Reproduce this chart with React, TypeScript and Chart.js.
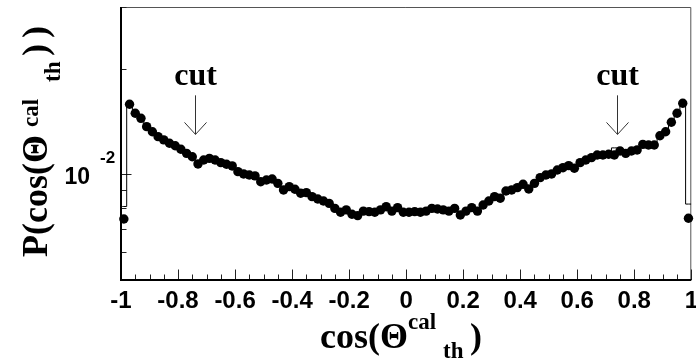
import React, { useEffect, useRef } from "react";
import { Chart, registerables } from "chart.js";
Chart.register(...registerables);

// bin centres of cos(theta) histogram (bin width 0.02)
const binCenters = [
  -0.99, -0.97, -0.95, -0.93, -0.91, -0.89, -0.87, -0.85, -0.83, -0.81,
  -0.79, -0.77, -0.75, -0.73, -0.71, -0.69, -0.67, -0.65, -0.63, -0.61,
  -0.59, -0.57, -0.55, -0.53, -0.51, -0.49, -0.47, -0.45, -0.43, -0.41,
  -0.39, -0.37, -0.35, -0.33, -0.31, -0.29, -0.27, -0.25, -0.23, -0.21,
  -0.19, -0.17, -0.15, -0.13, -0.11, -0.09, -0.07, -0.05, -0.03, -0.01,
  0.01, 0.03, 0.05, 0.07, 0.09, 0.11, 0.13, 0.15, 0.17, 0.19,
  0.21, 0.23, 0.25, 0.27, 0.29, 0.31, 0.33, 0.35, 0.37, 0.39,
  0.41, 0.43, 0.45, 0.47, 0.49, 0.51, 0.53, 0.55, 0.57, 0.59,
  0.61, 0.63, 0.65, 0.67, 0.69, 0.71, 0.73, 0.75, 0.77, 0.79,
  0.81, 0.83, 0.85, 0.87, 0.89, 0.91, 0.93, 0.95, 0.97, 0.99,
];

// data points P(cos)
const dataValues = [
  0.00746, 0.01585, 0.01494, 0.01445, 0.01368, 0.01323, 0.01281, 0.01254, 0.01227, 0.01207,
  0.01179, 0.01148, 0.01123, 0.01071, 0.01099, 0.01111, 0.01099, 0.0108, 0.01069, 0.01057,
  0.01018, 0.01003, 0.00996, 0.0099, 0.00953, 0.00964, 0.0097, 0.00943, 0.00903, 0.00923,
  0.00907, 0.00884, 0.00887, 0.00864, 0.00851, 0.0084, 0.00827, 0.008, 0.0078, 0.00792,
  0.0077, 0.00763, 0.00786, 0.00783, 0.0078, 0.00792, 0.00809, 0.00786, 0.00804, 0.0078,
  0.0078, 0.00783, 0.0078, 0.00786, 0.008, 0.00797, 0.00792, 0.00786, 0.008, 0.00766,
  0.00786, 0.00804, 0.00786, 0.00818, 0.0084, 0.00864, 0.00855, 0.00897, 0.00903, 0.00917,
  0.00937, 0.00909, 0.00943, 0.00979, 0.00996, 0.01003, 0.01029, 0.01045, 0.01059, 0.01041,
  0.0108, 0.01099, 0.01116, 0.01136, 0.01136, 0.01141, 0.01136, 0.01166, 0.01148, 0.01166,
  0.01174, 0.01218, 0.01213, 0.01213, 0.01289, 0.01323, 0.01408, 0.01494, 0.01595, 0.0075,
];

// simulation histogram (mostly hidden under the points)
const mcValues = [
  0.0081, 0.0158, 0.01494, 0.01445, 0.01368, 0.01323, 0.01281, 0.01254, 0.01227, 0.01207,
  0.01179, 0.01148, 0.01123, 0.01071, 0.01099, 0.01111, 0.01099, 0.0108, 0.01069, 0.01057,
  0.01018, 0.01003, 0.00996, 0.0099, 0.00953, 0.00964, 0.0097, 0.00943, 0.00903, 0.00923,
  0.00907, 0.00884, 0.00887, 0.00864, 0.00851, 0.0084, 0.00827, 0.008, 0.0078, 0.00792,
  0.0077, 0.00763, 0.00786, 0.00783, 0.0078, 0.00792, 0.00809, 0.00786, 0.00804, 0.0078,
  0.0078, 0.00783, 0.0078, 0.00786, 0.008, 0.00797, 0.00792, 0.00786, 0.008, 0.00766,
  0.00786, 0.00804, 0.00786, 0.00818, 0.0084, 0.00864, 0.00855, 0.00897, 0.00903, 0.00917,
  0.00937, 0.00909, 0.00943, 0.00979, 0.00996, 0.01003, 0.01029, 0.01045, 0.01059, 0.01041,
  0.0108, 0.01099, 0.01116, 0.01136, 0.01136, 0.01141, 0.0119, 0.0119, 0.01148, 0.01166,
  0.01174, 0.01218, 0.01213, 0.01213, 0.01289, 0.01323, 0.01408, 0.01494, 0.01595, 0.00823,
];

const xRange = [-1, 1];
const yRange = [0.005, 0.03];
const yTickValues = [0.005, 0.006, 0.007, 0.008, 0.009, 0.01, 0.02, 0.03];
const yMajorTick = 0.01;
const xMinorTicks = [
  -0.95, -0.9, -0.85, -0.75, -0.7, -0.65, -0.55, -0.5, -0.45, -0.35, -0.3, -0.25,
  -0.15, -0.1, -0.05, 0.05, 0.1, 0.15, 0.25, 0.3, 0.35, 0.45, 0.5, 0.55,
  0.65, 0.7, 0.75, 0.85, 0.9, 0.95,
];
const cutPositions = [-0.74, 0.74];
const cutLabel = "cut";
const cutLabelValue = 0.0180;
const arrowTopValue = 0.0168;
const arrowTipValue = 0.0130;

const decorPlugin = {
  id: "decor",
  beforeDatasetsDraw(chart: any) {
    const ctx = chart.ctx;
    const { left, right, top, bottom } = chart.chartArea;
    const xs = chart.scales.x;
    const ys = chart.scales.y;
    ctx.save();
    ctx.strokeStyle = "#555";
    ctx.lineWidth = 1;
    ctx.beginPath();
    ctx.moveTo(left, top + 0.5);
    ctx.lineTo(right - 0.5, top + 0.5);
    ctx.lineTo(right - 0.5, bottom);
    ctx.stroke();
    ctx.strokeStyle = "#222";
    ctx.lineWidth = 1;
    ctx.beginPath();
    for (const t of xs.ticks) {
      const px = Math.round(xs.getPixelForValue(t.value)) + 0.5;
      ctx.moveTo(px, bottom);
      ctx.lineTo(px, bottom - 10.5);
    }
    for (const v of xMinorTicks) {
      const px = Math.round(xs.getPixelForValue(v)) + 0.5;
      ctx.moveTo(px, bottom);
      ctx.lineTo(px, bottom - 5.5);
    }
    for (const t of ys.ticks) {
      const py = Math.round(ys.getPixelForValue(t.value)) + 0.5;
      const len = Math.abs(t.value - yMajorTick) < 1e-9 ? 10.5 : 5.5;
      ctx.moveTo(left, py);
      ctx.lineTo(left + len, py);
    }
    ctx.stroke();
    ctx.strokeStyle = "#000";
    ctx.lineWidth = 2;
    ctx.beginPath();
    ctx.moveTo(left, top);
    ctx.lineTo(left, bottom);
    ctx.lineTo(right, bottom);
    ctx.stroke();
    ctx.restore();
  },
  afterDraw(chart: any) {
    const ctx = chart.ctx;
    const xs = chart.scales.x;
    const ys = chart.scales.y;
    ctx.save();
    ctx.fillStyle = "#000";
    ctx.font = "bold 17px 'Liberation Sans', Arial, sans-serif";
    ctx.textAlign = "left";
    ctx.textBaseline = "middle";
    ctx.fillText("-2", 100, ys.getPixelForValue(yMajorTick) - 16);

    ctx.font = "bold 32px 'Liberation Serif', 'Times New Roman', serif";
    ctx.textAlign = "center";
    ctx.textBaseline = "alphabetic";
    ctx.strokeStyle = "#333";
    ctx.lineWidth = 1;
    for (const c of cutPositions) {
      const px = Math.round(xs.getPixelForValue(c)) + 0.5;
      ctx.fillText(cutLabel, px, ys.getPixelForValue(cutLabelValue));
      const y0 = ys.getPixelForValue(arrowTopValue);
      const y1 = ys.getPixelForValue(arrowTipValue);
      ctx.beginPath();
      ctx.moveTo(px, y0);
      ctx.lineTo(px, y1);
      ctx.moveTo(px - 11, y1 - 12);
      ctx.lineTo(px, y1);
      ctx.lineTo(px + 11, y1 - 12);
      ctx.stroke();
    }

    const big = "bold 36px 'Liberation Serif', 'Times New Roman', serif";
    const small = "bold 23px 'Liberation Serif', 'Times New Roman', serif";
    ctx.textAlign = "left";
    ctx.font = big;
    ctx.fillText("cos(\u0398", 320, 348);
    ctx.font = small;
    ctx.fillText("cal", 408, 329);
    ctx.fillText("th", 443, 358);
    ctx.font = big;
    ctx.fillText(")", 470, 348);

    ctx.translate(47, 257);
    ctx.rotate(-Math.PI / 2);
    ctx.font = big;
    ctx.fillText("P(cos(\u0398", 0, 0);
    ctx.font = small;
    ctx.fillText("cal", 130, -9);
    ctx.fillText("th", 175, 13);
    ctx.font = big;
    ctx.fillText(")", 201, 0);
    ctx.fillText(")", 219, 0);
    ctx.restore();
  },
};

export default function App() {
  const ref = useRef<HTMLCanvasElement | null>(null);
  useEffect(() => {
    if (!ref.current) return;
    const points = binCenters.map((x, i) => ({ x, y: dataValues[i] }));
    const hist = [
      { x: xRange[0], y: mcValues[0] },
      ...binCenters.map((x, i) => ({ x, y: mcValues[i] })),
      { x: xRange[1], y: mcValues[mcValues.length - 1] },
    ];
    const tickFont = { family: "'Liberation Sans', Arial, sans-serif", size: 24, weight: "bold" as const };
    const chart = new Chart(ref.current, {
      type: "scatter",
      data: {
        datasets: [
          {
            label: "data",
            data: points,
            pointRadius: 4.7,
            pointBackgroundColor: "#000",
            pointBorderWidth: 0,
            pointBorderColor: "#000",
            showLine: false,
            clip: false as any,
          },
          {
            label: "mc",
            data: hist,
            showLine: true,
            stepped: "middle",
            borderColor: "#000",
            borderWidth: 1,
            pointRadius: 0,
            fill: false,
          } as any,
        ],
      },
      options: {
        animation: false,
        responsive: false,
        maintainAspectRatio: false,
        layout: { padding: { top: 7, right: 2, left: 0, bottom: 0 } },
        plugins: { legend: { display: false }, tooltip: { enabled: false } },
        scales: {
          x: {
            type: "linear",
            min: xRange[0],
            max: xRange[1],
            grid: { display: false, drawTicks: false },
            border: { display: false },
            ticks: {
              stepSize: 0.2,
              color: "#000",
              font: tickFont,
              padding: 7,
              maxRotation: 0,
              autoSkip: false,
              callback: (v: any) => String(Math.round(Number(v) * 10) / 10),
            },
            afterFit(scale: any) {
              scale.height = 80;
              scale.paddingLeft = 0;
              scale.paddingRight = 0;
            },
          },
          y: {
            type: "logarithmic",
            min: yRange[0],
            max: yRange[1],
            grid: { display: false, drawTicks: false },
            border: { display: false },
            afterBuildTicks(scale: any) {
              scale.ticks = yTickValues.map((v) => ({ value: v }));
            },
            ticks: {
              color: "#000",
              font: { ...tickFont, size: 23 },
              padding: 31,
              labelOffset: 3,
              autoSkip: false,
              callback: (v: any) => (Math.abs(Number(v) - yMajorTick) < 1e-9 ? "10" : ""),
            },
            afterFit(scale: any) {
              scale.width = 121;
              scale.paddingTop = 0;
              scale.paddingBottom = 0;
            },
          },
        },
      },
      plugins: [decorPlugin],
    });
    return () => chart.destroy();
  }, []);
  return (
    <div style={{ position: "fixed", left: 0, top: 0, width: 696, height: 360, background: "#fff" }}>
      <canvas ref={ref} width={696} height={360} style={{ display: "block", width: 696, height: 360 }} />
    </div>
  );
}
